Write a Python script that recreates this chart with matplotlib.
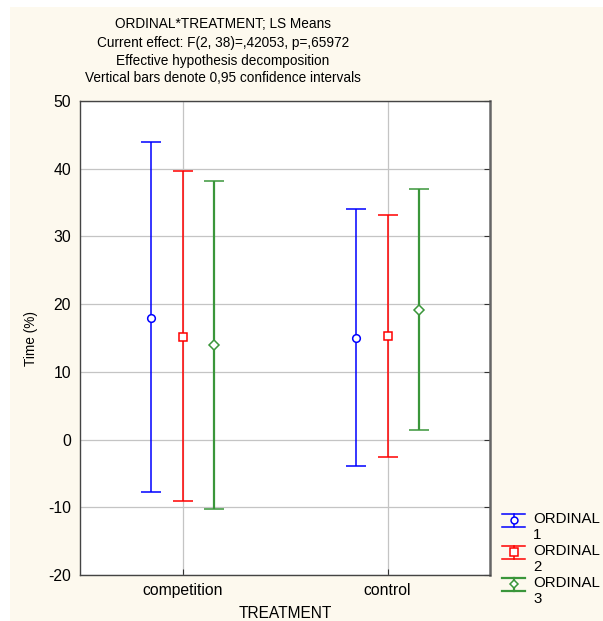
import matplotlib
matplotlib.use("Agg")
import matplotlib.pyplot as plt
from matplotlib.patches import Rectangle
from matplotlib.lines import Line2D
import numpy as np

plt.rcParams['font.family'] = ['Liberation Sans', 'DejaVu Sans']
plt.rcParams['axes.unicode_minus'] = False

# LS means and 0.95 confidence limits per ORDINAL level, by TREATMENT
treatments = ["competition", "control"]
levels = ["ORDINAL\n1", "ORDINAL\n2", "ORDINAL\n3"]
means = {
    "1": [18.0, 15.05],
    "2": [15.2, 15.35],
    "3": [14.0, 19.2],
}
upper = {
    "1": [43.9, 34.0],
    "2": [39.6, 33.2],
    "3": [38.2, 37.0],
}
lower = {
    "1": [-7.8, -3.85],
    "2": [-9.0, -2.5],
    "3": [-10.2, 1.45],
}
title_lines = [
    "ORDINAL*TREATMENT; LS Means",
    "Current effect: F(2, 38)=,42053, p=,65972",
    "Effective hypothesis decomposition",
    "Vertical bars denote 0,95 confidence intervals",
]

W, H = 603, 621
fig = plt.figure(figsize=(W / 100, H / 100), dpi=100, facecolor="white")
bg = Rectangle((10 / W, 0), 1 - 10 / W, (H - 7) / H,
               transform=fig.transFigure, facecolor="#fdf9ee",
               edgecolor="none", zorder=-10)
fig.add_artist(bg)

ax = fig.add_axes([80 / W, 1 - 575 / H, 410 / W, 474 / H])
ax.set_facecolor("white")

styles = [
    ("1", "#0000ff", "o", 5.5, 1.1, -0.155),
    ("2", "#ff0000", "s", 6.0, 1.1, 0.0),
    ("3", "#3a963a", "D", 4.6, 1.6, 0.155),
]
x = np.arange(1, len(treatments) + 1)
for (key, color, mk, ms, lw, off), lab in zip(styles, levels):
    m = np.array(means[key])
    lo = m - np.array(lower[key])
    hi = np.array(upper[key]) - m
    ax.errorbar(x + off, m, yerr=[lo, hi], fmt=mk, color=color,
                mfc="white", mec=color, ms=ms, mew=1.1,
                ecolor=color, elinewidth=lw, capsize=7.5, capthick=lw,
                label=lab, zorder=3)

ax.set_xlim(0.5, 2.5)
ax.set_ylim(-20, 50)
ax.set_xticks(x)
ax.set_xticklabels(treatments)
ax.set_yticks(np.arange(-20, 51, 10))
ax.grid(True, color="#c4c4c4", linewidth=0.9, zorder=0)
ax.set_axisbelow(True)
ax.tick_params(axis="both", direction="in", length=4, labelsize=11.3,
               colors="#333333", labelcolor="black",
               right=True, top=False)
ax.tick_params(axis="x", pad=6)
ax.tick_params(axis="y", left=False, pad=6.5)
for s in ax.spines.values():
    s.set_color("#444444")
    s.set_linewidth(1.0)
ax.spines["right"].set_linewidth(1.8)
ax.spines["right"].set_color("#666666")

fig.text(285 / W, 1 - 613 / H, "TREATMENT", ha="center", va="center",
         fontsize=11.2)
fig.text(31 / W, 1 - 338 / H, "Time (%)", ha="center", va="center",
         rotation=90, fontsize=9.8)

ys = [24, 43, 61, 78]
for t, yy in zip(title_lines, ys):
    fig.text(223 / W, 1 - yy / H, t, ha="center", va="center", fontsize=9.8)

# Legend: error-bar glyph beside a two-line label
for i, ((key, color, mk, ms, lw, off), lab) in enumerate(zip(styles, levels)):
    yc = 520 + i * 32
    xa, xb = 502, 525
    xm = (xa + xb) / 2
    tf = fig.transFigure
    for yy in (yc - 6.5, yc + 6.5):
        fig.add_artist(Line2D([xa / W, xb / W], [1 - yy / H, 1 - yy / H],
                              color=color, lw=lw, transform=tf))
    fig.add_artist(Line2D([xm / W, xm / W],
                          [1 - (yc - 6.5) / H, 1 - (yc + 6.5) / H],
                          color=color, lw=lw, transform=tf))
    fig.add_artist(Line2D([xm / W], [1 - yc / H], marker=mk, ms=ms * 0.9,
                          mfc="white", mec=color, mew=1.1, color=color,
                          transform=tf))
    fig.text(533 / W, 1 - (yc - 8) / H, lab, ha="left", va="top",
             fontsize=10.8, linespacing=1.2)

fig.savefig("out.png", dpi=100)
